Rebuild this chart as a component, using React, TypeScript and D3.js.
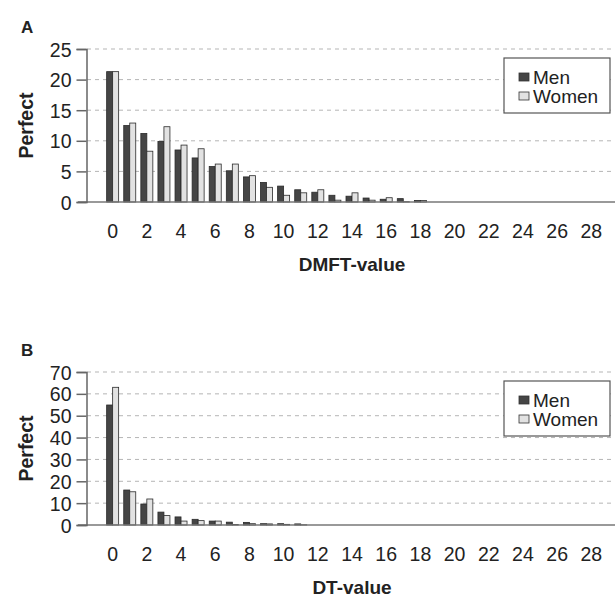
import * as d3 from "d3";
import React, { useEffect, useRef } from "react";

// DMFT-value distribution (percent), categories 0..18
const dmftMen = [21.3, 12.5, 11.2, 9.9, 8.5, 7.2, 5.8, 5.1, 4.1, 3.2, 2.6, 2.0, 1.6, 1.1, 0.95, 0.65, 0.45, 0.55, 0.25];
const dmftWomen = [21.3, 12.9, 8.3, 12.3, 9.3, 8.7, 6.2, 6.2, 4.3, 2.4, 1.1, 1.5, 2.0, 0.3, 1.5, 0.3, 0.7, 0.05, 0.25];

// DT-value distribution (percent), categories 0..11
const dtMen = [54.9, 16.0, 9.6, 5.9, 3.7, 2.6, 1.8, 1.3, 1.2, 0.6, 0.6, 0.5];
const dtWomen = [63.0, 15.2, 11.9, 4.3, 1.8, 2.0, 1.8, 0.2, 0.6, 0.5, 0.3, 0.1];

const categories = d3.range(-1, 30);
const xTickLabels = d3.range(0, 29, 2);
const dmftTicks = [0, 5, 10, 15, 20, 25];
const dtTicks = [0, 10, 20, 30, 40, 50, 60, 70];
const seriesNames = ["Men", "Women"];

const FONT = "'Liberation Sans', Arial, sans-serif";
const colors = { Men: "#454545", Women: "#e2e2e2" };

const width = 615;
const height = 598;

const App = () => {
  const ref = useRef(null);

  useEffect(() => {
    const svg = d3.select(ref.current);
    svg.selectAll("*").remove();

    const x = d3.scaleBand().domain(categories).range([87, 617]).padding(0);
    const inner = d3.scaleBand().domain(seriesNames).range([0, 12]).padding(0);

    const drawPanel = (opts) => {
      const { letter, top, bottom, maxY, ticks, men, women, xTitle, legendY } = opts;
      const y = d3.scaleLinear().domain([0, maxY]).range([bottom, top]);
      const g = svg.append("g");

      // gridlines
      g.selectAll(".grid")
        .data(ticks.filter((t) => t > 0))
        .enter()
        .append("line")
        .attr("x1", 87)
        .attr("x2", width)
        .attr("y1", (d) => y(d))
        .attr("y2", (d) => y(d))
        .attr("stroke", "#b5b5b5")
        .attr("stroke-width", 1)
        .attr("stroke-dasharray", "4,4");

      // bars
      const rows = [];
      men.forEach((v, i) => rows.push({ cat: i, s: "Men", v }));
      women.forEach((v, i) => rows.push({ cat: i, s: "Women", v }));
      g.selectAll(".bar")
        .data(rows)
        .enter()
        .append("rect")
        .attr("x", (d) => x(d.cat) + x.bandwidth() / 2 - 6 + inner(d.s))
        .attr("y", (d) => y(d.v))
        .attr("width", inner.bandwidth())
        .attr("height", (d) => bottom - y(d.v))
        .attr("fill", (d) => colors[d.s])
        .attr("stroke", "#2a2a2a")
        .attr("stroke-width", 0.8);

      // x axis line
      g.append("line")
        .attr("x1", 78)
        .attr("x2", width)
        .attr("y1", bottom)
        .attr("y2", bottom)
        .attr("stroke", "#777")
        .attr("stroke-width", 1.5);

      // y axis
      const yAxis = g.append("g")
        .attr("transform", `translate(86.5,0)`)
        .call(d3.axisLeft(y).tickValues(ticks).tickSize(10).tickPadding(5));
      yAxis.select(".domain").attr("stroke", "#666").attr("stroke-width", 1.5);
      yAxis.selectAll(".tick line").attr("stroke", "#666").attr("stroke-width", 1.5);
      yAxis.selectAll("text")
        .attr("font-family", FONT)
        .attr("font-size", 19.5)
        .attr("fill", "#222")
        .attr("dy", "0.36em");

      // x tick labels
      g.selectAll(".xl")
        .data(xTickLabels)
        .enter()
        .append("text")
        .attr("x", (d) => x(d) + x.bandwidth() / 2)
        .attr("y", bottom + 36)
        .attr("text-anchor", "middle")
        .attr("font-family", FONT)
        .attr("font-size", 19.5)
        .attr("fill", "#222")
        .text((d) => d);

      // titles
      g.append("text")
        .attr("x", 352)
        .attr("y", bottom + 69)
        .attr("text-anchor", "middle")
        .attr("font-family", FONT)
        .attr("font-weight", "bold")
        .attr("font-size", 19)
        .attr("fill", "#222")
        .text(xTitle);

      g.append("text")
        .attr("transform", `translate(33,${(top + bottom) / 2}) rotate(-90)`)
        .attr("text-anchor", "middle")
        .attr("font-family", FONT)
        .attr("font-weight", "bold")
        .attr("font-size", 19.5)
        .attr("fill", "#222")
        .text("Perfect");

      g.append("text")
        .attr("x", 21)
        .attr("y", top - 16)
        .attr("font-family", FONT)
        .attr("font-weight", "bold")
        .attr("font-size", 17)
        .attr("fill", "#222")
        .text(letter);

      // legend
      const lg = g.append("g").attr("transform", `translate(504,${legendY})`);
      lg.append("rect")
        .attr("width", 106)
        .attr("height", 55)
        .attr("fill", "#fff")
        .attr("stroke", "#555")
        .attr("stroke-width", 1.2);
      seriesNames.forEach((s, i) => {
        lg.append("rect")
          .attr("x", 15)
          .attr("y", 15 + i * 19)
          .attr("width", 10)
          .attr("height", 8)
          .attr("fill", colors[s])
          .attr("stroke", "#333")
          .attr("stroke-width", 0.8);
        lg.append("text")
          .attr("x", 29)
          .attr("y", 26 + i * 19)
          .attr("font-family", FONT)
          .attr("font-size", 19)
          .attr("fill", "#222")
          .text(s);
      });
    };

    drawPanel({
      letter: "A", top: 49, bottom: 202, maxY: 25, ticks: dmftTicks,
      men: dmftMen, women: dmftWomen, xTitle: "DMFT-value", legendY: 58,
    });
    drawPanel({
      letter: "B", top: 372, bottom: 525, maxY: 70, ticks: dtTicks,
      men: dtMen, women: dtWomen, xTitle: "DT-value", legendY: 381,
    });
  }, []);

  return (
    <svg
      ref={ref}
      width={width}
      height={height}
      style={{ position: "absolute", left: 0, top: 0, background: "#fff" }}
    />
  );
};

export default App;
